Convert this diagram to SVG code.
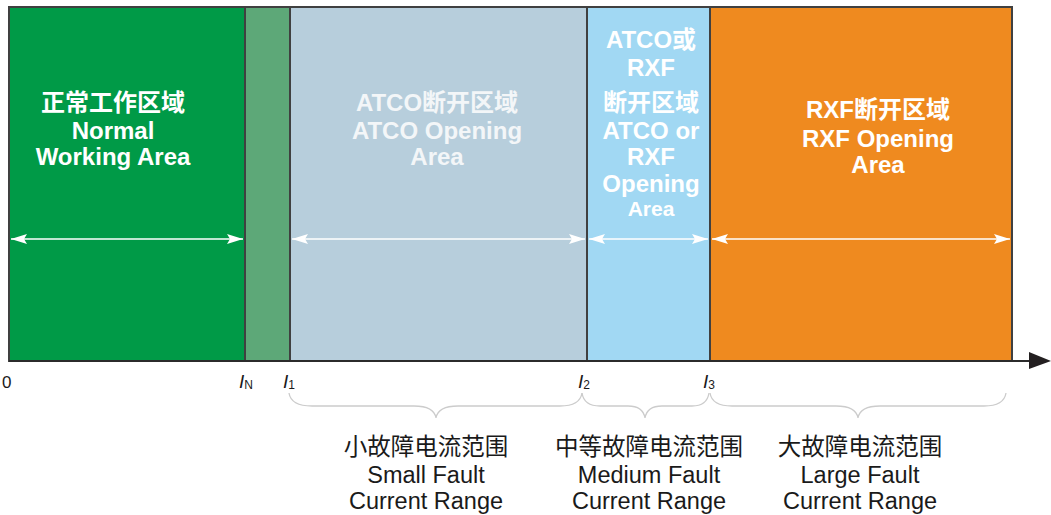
<svg xmlns="http://www.w3.org/2000/svg" width="1051" height="515" viewBox="0 0 1051 515">
<style>
.zone{stroke:#404040;stroke-width:2}
.t{font-family:"Liberation Sans","Noto Sans CJK SC",sans-serif;font-weight:bold;font-size:24px;fill:#ffffff;text-anchor:middle}
.tl{fill:#f3f6f8}
.b{font-family:"Liberation Sans","Noto Sans CJK SC",sans-serif;font-size:23.5px;fill:#1a1a1a;text-anchor:middle}
.ax{font-family:"Liberation Sans",sans-serif;font-size:19px;fill:#1a1a1a}
.sub{font-size:12px;font-style:normal}
.dim{stroke:#ffffff;stroke-width:1.6;fill:none;marker-start:url(#ah);marker-end:url(#ah)}
.brace{stroke:#cccccc;stroke-width:1.3;fill:none}
</style>
<defs>
<marker id="ah" viewBox="0 0 16 10" refX="16" refY="5" markerWidth="16" markerHeight="10" markerUnits="userSpaceOnUse" orient="auto-start-reverse">
<path d="M0,0 L16,5 L0,10 L3,5 Z" fill="#ffffff"/>
</marker>
</defs>
<rect width="1051" height="515" fill="#ffffff"/>
<g id="zone-normal">
<rect class="zone" x="9" y="7" width="236" height="354" fill="#009a47"/>
<text class="t" x="113" y="111">正常工作区域</text>
<text class="t" x="113" y="139">Normal</text>
<text class="t" x="113" y="165">Working Area</text>
</g>
<g id="zone-in">
<rect class="zone" x="245" y="7" width="45" height="354" fill="#5da878"/>
</g>
<g id="zone-atco">
<rect class="zone" x="290" y="7" width="297" height="354" fill="#b7cedc"/>
<text class="t tl" x="437" y="111">ATCO断开区域</text>
<text class="t tl" x="437" y="139">ATCO Opening</text>
<text class="t tl" x="437" y="165">Area</text>
</g>
<g id="zone-atco-rxf">
<rect class="zone" x="587" y="7" width="123" height="354" fill="#a1d8f3"/>
<text class="t" x="651" y="48">ATCO或</text>
<text class="t" x="651" y="76">RXF</text>
<text class="t" x="651" y="111">断开区域</text>
<text class="t" x="651" y="139">ATCO or</text>
<text class="t" x="651" y="165">RXF</text>
<text class="t" x="651" y="192">Opening</text>
<text class="t" x="651" y="216" style="font-size:21px">Area</text>
</g>
<g id="zone-rxf">
<rect class="zone" x="710" y="7" width="302" height="354" fill="#ef8a1f"/>
<text class="t" x="878" y="118">RXF断开区域</text>
<text class="t" x="878" y="147">RXF Opening</text>
<text class="t" x="878" y="173">Area</text>
</g>
<g id="connectors">
<line class="dim" x1="11" y1="239" x2="243" y2="239"/>
<line class="dim" x1="292" y1="239" x2="585" y2="239"/>
<line class="dim" x1="589" y1="239" x2="708" y2="239"/>
<line class="dim" x1="712" y1="239" x2="1010" y2="239"/>
<line x1="9" y1="361" x2="1032" y2="361" stroke="#2b2b2b" stroke-width="2"/>
<polygon points="1029,352 1051,361 1029,369" fill="#231f20"/>
<path class="brace" d="M289,393 Q291,406 312,406 L414,406 Q434,406 436,418 Q438,406 458,406 L560,406 Q580,406 582,393"/>
<path class="brace" d="M582,393 Q584,406 600,406 L628,406 Q643,406 645,418 Q647,406 662,406 L692,406 Q707,406 709,393"/>
<path class="brace" d="M710,393 Q712,406 732,406 L836,406 Q856,406 858,418 Q860,406 880,406 L984,406 Q1004,406 1006,393"/>
</g>
<g id="axis-labels">
<text class="ax" x="2" y="388" style="font-size:17px">0</text>
<text class="ax" x="239" y="388" font-style="italic">I<tspan class="sub" dy="1">N</tspan></text>
<text class="ax" x="283" y="388" font-style="italic">I<tspan class="sub" dy="1">1</tspan></text>
<text class="ax" x="578" y="388" font-style="italic">I<tspan class="sub" dy="1">2</tspan></text>
<text class="ax" x="703" y="388" font-style="italic">I<tspan class="sub" dy="1">3</tspan></text>
</g>
<g id="range-labels">
<text class="b" x="426" y="455">小故障电流范围</text>
<text class="b" x="426" y="483">Small Fault</text>
<text class="b" x="426" y="509">Current Range</text>
<text class="b" x="649" y="455">中等故障电流范围</text>
<text class="b" x="649" y="483">Medium Fault</text>
<text class="b" x="649" y="509">Current Range</text>
<text class="b" x="860" y="455">大故障电流范围</text>
<text class="b" x="860" y="483">Large Fault</text>
<text class="b" x="860" y="509">Current Range</text>
</g>
</svg>
